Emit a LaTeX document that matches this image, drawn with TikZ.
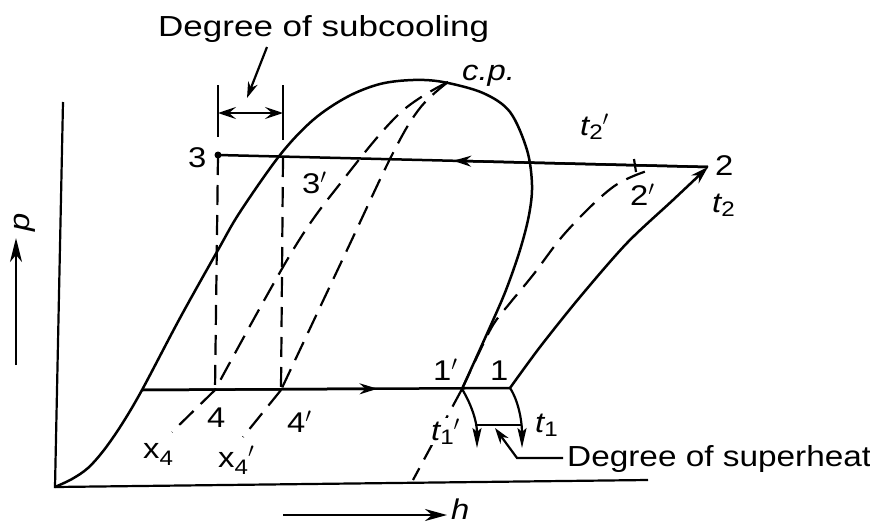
\documentclass[tikz,border=0pt]{standalone}
\usepackage{graphicx}
\usepackage{fontspec}
\setmainfont{Liberation Sans}[FakeStretch=1.15]
\usetikzlibrary{arrows.meta,calc}
\tikzset{
 curve/.style={line width=2.5pt,line join=round},
 thinc/.style={line width=2.2pt},
 dashcurve/.style={line width=2.2pt,dash pattern=on 20pt off 10pt},
 flow/.style={-{Stealth[length=18pt,width=11pt,inset=6pt]}},
 headdown/.style={-{Stealth[length=20pt,width=9pt,inset=4pt]}},
 leader/.style={-{Stealth[length=16pt,width=10pt,inset=5pt]}},
 dimarrow/.style={{Stealth[length=18pt,width=12pt,inset=7pt]}-{Stealth[length=18pt,width=12pt,inset=7pt]}},
 lbl/.style={inner sep=0pt,font=\fontsize{28.5}{30}\selectfont},
 note/.style={inner sep=0pt,font=\fontsize{29}{32}\selectfont}
}
\newcommand\lsub[2][-4pt]{\raisebox{#1}{\upshape\fontsize{21}{21}\selectfont #2}}
\newcommand\pr{$^\prime$}

\begin{document}
\begin{tikzpicture}[x=1pt,y=-1pt]
\useasboundingbox (0,0) rectangle (870,525);
\coordinate (O) at (55,487);
\coordinate (ptop) at (63,102);
\coordinate (hend) at (648,480);
\coordinate (sat) at (142,390);
\coordinate (pt1) at (510,388);
\coordinate (pt1p) at (462,389);
\coordinate (pt2) at (708,167);
\coordinate (end2p) at (650,170);
\coordinate (pt3) at (218,155);
\coordinate (pt3r) at (283,157);
\coordinate (pt4) at (215,390);
\coordinate (pt4p) at (281,390);
\coordinate (cp) at (448,82);
\coordinate (x4foot) at (172,432);
\coordinate (x4pfoot) at (243,437);
\coordinate (t1pfoot) at (413,480);
\coordinate (tipA) at (477,448);
\coordinate (tipB) at (522,448);

\draw[thinc] (ptop) -- (O) -- (hend);
\draw[thinc,-{Stealth[length=24pt,width=12pt,inset=7pt]}] (16,365) coordinate (pfoot) -- (16,238) coordinate (phead);
\node[lbl,rotate=90] (plbl) at (25,222) {\itshape p};
\draw[thinc,-{Stealth[length=22pt,width=12pt,inset=7pt]}] (283,515) coordinate (hfoot) -- (447,515) coordinate (hhead);
\node[lbl,anchor=base west] (hlbl) at (451,519) {\itshape h};

\draw[curve] plot[smooth,tension=0.55] coordinates {(O) (72,479) (88,468) (104,450) (122,424) (sat) (180,318) (218,250) (240,212) (280,155) (313,120) (347,97) (380,84) (413,80) (443,82) (483,93) (510,112) (527,150) (532,185) (529,215) (520,250) (506,290) (490,327) (pt1p)};

\draw[thinc] (218,85) coordinate (ext3) -- (218,137);
\draw[thinc] (283,85) coordinate (ext3p) -- (283,140);
\draw[thinc,dimarrow] (218,113) coordinate (dimL) -- (283,113) coordinate (dimR);
\draw[dashcurve] (pt3) -- (pt4);
\draw[dashcurve] (pt3r) -- (pt4p);

\draw[dashcurve] plot[smooth,tension=0.6] coordinates {(cp) (400,113) (343,180) (293,250) (pt4)};
\draw[dashcurve] (pt4) -- (x4foot);
\draw[dashcurve] plot[smooth,tension=0.6] coordinates {(cp) (420,108) (393,153) (347,250) (pt4p)};
\draw[dashcurve] (pt4p) -- (x4pfoot);

\draw[curve] (pt3) -- (pt2);
\draw[curve,flow] (pt2) -- ($(pt2)!0.52!(pt3)$);
\fill (pt3) circle (3.5);
\draw[curve] (sat) -- (pt1);
\draw[curve,flow] (sat) -- ($(sat)!0.64!(pt1)$);

\draw[curve,flow] plot[smooth] coordinates {(pt1) (540,347) (580,297) (627,243) (673,200) (pt2)};
\draw[dashcurve] plot[smooth,tension=0.6] coordinates {(pt1p) (477,357) (493,325) (510,303) (533,275) (567,231) (613,187) (end2p)};
\draw[thinc] (634,159) coordinate (tick2p) -- (636,172);

\draw[dashcurve] (pt1p) -- (t1pfoot);
\node[lbl,anchor=base west,fill=white,inner sep=1pt] (lt1p) at (430,440) {\itshape t\lsub{1}\pr};
\draw[thinc,headdown] (pt1p) .. controls (470,402) and (477,420) .. (tipA);
\draw[thinc,headdown] (pt1) .. controls (518,400) and (522,420) .. (tipB);
\draw[thinc] (476,425) coordinate (shL) -- (521,425) coordinate (shR);

\node[note,anchor=base west] (subcool) at (158,36) {\scalebox{1.05}[1]{Degree of subcooling}};
\draw[thinc,leader] (267,47) coordinate (scfoot) -- (247,98) coordinate (sctip);
\node[note,anchor=base west] (superheat) at (567,466) {Degree of superheat};
\draw[thinc,leader] (563,458) coordinate (shfoot) -- (517,458) coordinate (shbend) -- (495,428) coordinate (shtip);

\node[lbl,anchor=base west] (cplbl) at (462,80) {\itshape c.p.};
\node[lbl,anchor=base west] (l3) at (188,167) {3};
\node[lbl,anchor=base west] (l3p) at (302,193) {3\pr};
\node[lbl,anchor=base west] (lt2p) at (580,135) {\itshape t\lsub{2}\pr};
\node[lbl,anchor=base west] (l2) at (715,175) {2};
\node[lbl,anchor=base west] (l2p) at (630,205) {2\pr};
\node[lbl,anchor=base west] (lt2) at (712,212) {\itshape t\lsub{2}};
\node[lbl,anchor=base west] (l1p) at (433,380) {1\pr};
\node[lbl,anchor=base west] (l1) at (490,380) {1};
\node[lbl,anchor=base west] (lt1) at (535,432) {\itshape t\lsub{1}};
\node[lbl,anchor=base west] (l4) at (207,427) {4};
\node[lbl,anchor=base west] (l4p) at (287,432) {4\pr};
\node[lbl,anchor=base west] (lx4) at (143,458) {x\lsub[-7pt]{4}};
\node[lbl,anchor=base west] (lx4p) at (218,467) {x\lsub[-7pt]{4}\pr};
\end{tikzpicture}
\end{document}
